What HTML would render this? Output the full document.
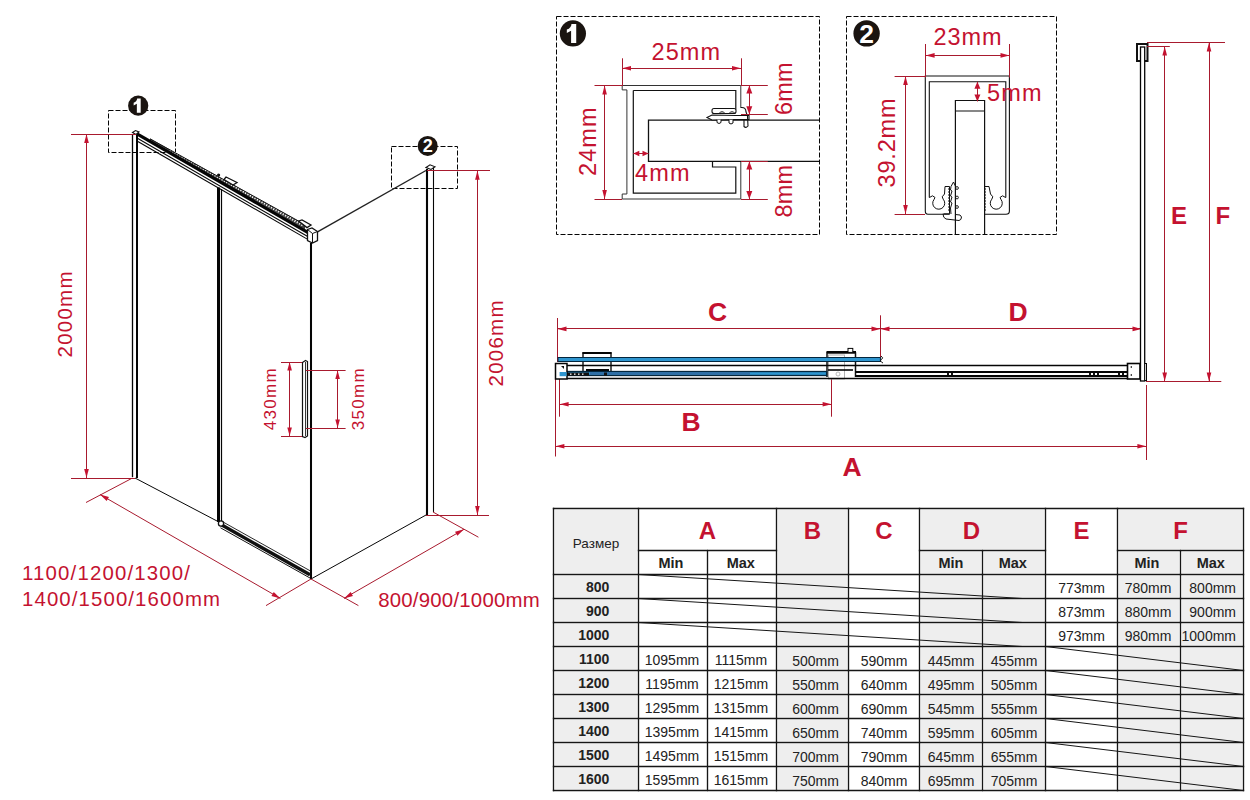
<!DOCTYPE html>
<html><head><meta charset="utf-8"><style>
html,body{margin:0;padding:0;background:#fff;width:1250px;height:800px;overflow:hidden}
svg{display:block;font-family:"Liberation Sans", sans-serif}
</style></head><body>
<svg width="1250" height="800" viewBox="0 0 1250 800">
<rect width="1250" height="800" fill="#fff"/>
<rect x="555.0" y="510.0" width="82.0" height="63.0" fill="#eeeeee"/>
<rect x="778.0" y="510.0" width="69.0" height="63.0" fill="#eeeeee"/>
<rect x="921.0" y="510.0" width="123.0" height="39.0" fill="#eeeeee"/>
<rect x="1119.0" y="510.0" width="123.0" height="39.0" fill="#eeeeee"/>
<rect x="921.0" y="552.0" width="60.0" height="21.0" fill="#eeeeee"/>
<rect x="984.0" y="552.0" width="60.0" height="21.0" fill="#eeeeee"/>
<rect x="1119.0" y="552.0" width="60.0" height="21.0" fill="#eeeeee"/>
<rect x="1182.0" y="552.0" width="60.0" height="21.0" fill="#eeeeee"/>
<rect x="555.0" y="576.0" width="82.0" height="21.0" fill="#eeeeee"/>
<rect x="778.0" y="576.0" width="69.0" height="21.0" fill="#eeeeee"/>
<rect x="921.0" y="576.0" width="60.0" height="21.0" fill="#eeeeee"/>
<rect x="984.0" y="576.0" width="60.0" height="21.0" fill="#eeeeee"/>
<rect x="1119.0" y="576.0" width="60.0" height="21.0" fill="#eeeeee"/>
<rect x="1182.0" y="576.0" width="60.0" height="21.0" fill="#eeeeee"/>
<rect x="555.0" y="600.0" width="82.0" height="21.0" fill="#eeeeee"/>
<rect x="778.0" y="600.0" width="69.0" height="21.0" fill="#eeeeee"/>
<rect x="921.0" y="600.0" width="60.0" height="21.0" fill="#eeeeee"/>
<rect x="984.0" y="600.0" width="60.0" height="21.0" fill="#eeeeee"/>
<rect x="1119.0" y="600.0" width="60.0" height="21.0" fill="#eeeeee"/>
<rect x="1182.0" y="600.0" width="60.0" height="21.0" fill="#eeeeee"/>
<rect x="555.0" y="624.0" width="82.0" height="21.0" fill="#eeeeee"/>
<rect x="778.0" y="624.0" width="69.0" height="21.0" fill="#eeeeee"/>
<rect x="921.0" y="624.0" width="60.0" height="21.0" fill="#eeeeee"/>
<rect x="984.0" y="624.0" width="60.0" height="21.0" fill="#eeeeee"/>
<rect x="1119.0" y="624.0" width="60.0" height="21.0" fill="#eeeeee"/>
<rect x="1182.0" y="624.0" width="60.0" height="21.0" fill="#eeeeee"/>
<rect x="555.0" y="648.0" width="82.0" height="21.0" fill="#eeeeee"/>
<rect x="778.0" y="648.0" width="69.0" height="21.0" fill="#eeeeee"/>
<rect x="921.0" y="648.0" width="60.0" height="21.0" fill="#eeeeee"/>
<rect x="984.0" y="648.0" width="60.0" height="21.0" fill="#eeeeee"/>
<rect x="1119.0" y="648.0" width="60.0" height="21.0" fill="#eeeeee"/>
<rect x="1182.0" y="648.0" width="60.0" height="21.0" fill="#eeeeee"/>
<rect x="555.0" y="672.0" width="82.0" height="21.0" fill="#eeeeee"/>
<rect x="778.0" y="672.0" width="69.0" height="21.0" fill="#eeeeee"/>
<rect x="921.0" y="672.0" width="60.0" height="21.0" fill="#eeeeee"/>
<rect x="984.0" y="672.0" width="60.0" height="21.0" fill="#eeeeee"/>
<rect x="1119.0" y="672.0" width="60.0" height="21.0" fill="#eeeeee"/>
<rect x="1182.0" y="672.0" width="60.0" height="21.0" fill="#eeeeee"/>
<rect x="555.0" y="696.0" width="82.0" height="21.0" fill="#eeeeee"/>
<rect x="778.0" y="696.0" width="69.0" height="21.0" fill="#eeeeee"/>
<rect x="921.0" y="696.0" width="60.0" height="21.0" fill="#eeeeee"/>
<rect x="984.0" y="696.0" width="60.0" height="21.0" fill="#eeeeee"/>
<rect x="1119.0" y="696.0" width="60.0" height="21.0" fill="#eeeeee"/>
<rect x="1182.0" y="696.0" width="60.0" height="21.0" fill="#eeeeee"/>
<rect x="555.0" y="720.0" width="82.0" height="21.0" fill="#eeeeee"/>
<rect x="778.0" y="720.0" width="69.0" height="21.0" fill="#eeeeee"/>
<rect x="921.0" y="720.0" width="60.0" height="21.0" fill="#eeeeee"/>
<rect x="984.0" y="720.0" width="60.0" height="21.0" fill="#eeeeee"/>
<rect x="1119.0" y="720.0" width="60.0" height="21.0" fill="#eeeeee"/>
<rect x="1182.0" y="720.0" width="60.0" height="21.0" fill="#eeeeee"/>
<rect x="555.0" y="744.0" width="82.0" height="21.0" fill="#eeeeee"/>
<rect x="778.0" y="744.0" width="69.0" height="21.0" fill="#eeeeee"/>
<rect x="921.0" y="744.0" width="60.0" height="21.0" fill="#eeeeee"/>
<rect x="984.0" y="744.0" width="60.0" height="21.0" fill="#eeeeee"/>
<rect x="1119.0" y="744.0" width="60.0" height="21.0" fill="#eeeeee"/>
<rect x="1182.0" y="744.0" width="60.0" height="21.0" fill="#eeeeee"/>
<rect x="555.0" y="768.0" width="82.0" height="21.0" fill="#eeeeee"/>
<rect x="778.0" y="768.0" width="69.0" height="21.0" fill="#eeeeee"/>
<rect x="921.0" y="768.0" width="60.0" height="21.0" fill="#eeeeee"/>
<rect x="984.0" y="768.0" width="60.0" height="21.0" fill="#eeeeee"/>
<rect x="1119.0" y="768.0" width="60.0" height="21.0" fill="#eeeeee"/>
<rect x="1182.0" y="768.0" width="60.0" height="21.0" fill="#eeeeee"/>
<line x1="553.5" y1="508.5" x2="1243.5" y2="508.5" stroke="#161616" stroke-width="1.35" stroke-linecap="square"/>
<line x1="553.5" y1="790.5" x2="1243.5" y2="790.5" stroke="#161616" stroke-width="1.35" stroke-linecap="square"/>
<line x1="553.5" y1="508.5" x2="553.5" y2="790.5" stroke="#161616" stroke-width="1.35" stroke-linecap="square"/>
<line x1="1243.5" y1="508.5" x2="1243.5" y2="790.5" stroke="#161616" stroke-width="1.35" stroke-linecap="square"/>
<line x1="638.5" y1="508.5" x2="638.5" y2="790.5" stroke="#161616" stroke-width="1.35" stroke-linecap="square"/>
<line x1="776.5" y1="508.5" x2="776.5" y2="790.5" stroke="#161616" stroke-width="1.35" stroke-linecap="square"/>
<line x1="848.5" y1="508.5" x2="848.5" y2="790.5" stroke="#161616" stroke-width="1.35" stroke-linecap="square"/>
<line x1="919.5" y1="508.5" x2="919.5" y2="790.5" stroke="#161616" stroke-width="1.35" stroke-linecap="square"/>
<line x1="1045.5" y1="508.5" x2="1045.5" y2="790.5" stroke="#161616" stroke-width="1.35" stroke-linecap="square"/>
<line x1="1117.5" y1="508.5" x2="1117.5" y2="790.5" stroke="#161616" stroke-width="1.35" stroke-linecap="square"/>
<line x1="707.5" y1="550.5" x2="707.5" y2="790.5" stroke="#161616" stroke-width="1.35" stroke-linecap="square"/>
<line x1="982.5" y1="550.5" x2="982.5" y2="790.5" stroke="#161616" stroke-width="1.35" stroke-linecap="square"/>
<line x1="1180.5" y1="550.5" x2="1180.5" y2="790.5" stroke="#161616" stroke-width="1.35" stroke-linecap="square"/>
<line x1="638.5" y1="550.5" x2="776.5" y2="550.5" stroke="#161616" stroke-width="1.35" stroke-linecap="square"/>
<line x1="919.5" y1="550.5" x2="1045.5" y2="550.5" stroke="#161616" stroke-width="1.35" stroke-linecap="square"/>
<line x1="1117.5" y1="550.5" x2="1243.5" y2="550.5" stroke="#161616" stroke-width="1.35" stroke-linecap="square"/>
<line x1="553.5" y1="574.5" x2="1243.5" y2="574.5" stroke="#161616" stroke-width="1.35" stroke-linecap="square"/>
<line x1="553.5" y1="598.5" x2="1243.5" y2="598.5" stroke="#161616" stroke-width="1.35" stroke-linecap="square"/>
<line x1="553.5" y1="622.5" x2="1243.5" y2="622.5" stroke="#161616" stroke-width="1.35" stroke-linecap="square"/>
<line x1="553.5" y1="646.5" x2="1243.5" y2="646.5" stroke="#161616" stroke-width="1.35" stroke-linecap="square"/>
<line x1="553.5" y1="670.5" x2="1243.5" y2="670.5" stroke="#161616" stroke-width="1.35" stroke-linecap="square"/>
<line x1="553.5" y1="694.5" x2="1243.5" y2="694.5" stroke="#161616" stroke-width="1.35" stroke-linecap="square"/>
<line x1="553.5" y1="718.5" x2="1243.5" y2="718.5" stroke="#161616" stroke-width="1.35" stroke-linecap="square"/>
<line x1="553.5" y1="742.5" x2="1243.5" y2="742.5" stroke="#161616" stroke-width="1.35" stroke-linecap="square"/>
<line x1="553.5" y1="766.5" x2="1243.5" y2="766.5" stroke="#161616" stroke-width="1.35" stroke-linecap="square"/>
<text x="596.0" y="548" font-size="13.5" fill="#222" text-anchor="middle" font-weight="normal">Размер</text>
<text x="707.5" y="538.6" font-size="24" fill="#c41230" text-anchor="middle" font-weight="bold">A</text>
<text x="812.5" y="538.6" font-size="24" fill="#c41230" text-anchor="middle" font-weight="bold">B</text>
<text x="884.0" y="538.6" font-size="24" fill="#c41230" text-anchor="middle" font-weight="bold">C</text>
<text x="971.5" y="538.6" font-size="24" fill="#c41230" text-anchor="middle" font-weight="bold">D</text>
<text x="1081.5" y="538.6" font-size="24" fill="#c41230" text-anchor="middle" font-weight="bold">E</text>
<text x="1180.5" y="538.6" font-size="24" fill="#c41230" text-anchor="middle" font-weight="bold">F</text>
<text x="671.0" y="568" font-size="14.5" fill="#222" text-anchor="middle" font-weight="bold">Min</text>
<text x="740.8" y="568" font-size="14.5" fill="#222" text-anchor="middle" font-weight="bold">Max</text>
<text x="951.0" y="568" font-size="14.5" fill="#222" text-anchor="middle" font-weight="bold">Min</text>
<text x="1012.8" y="568" font-size="14.5" fill="#222" text-anchor="middle" font-weight="bold">Max</text>
<text x="1147.0" y="568" font-size="14.5" fill="#222" text-anchor="middle" font-weight="bold">Min</text>
<text x="1210.8" y="568" font-size="14.5" fill="#222" text-anchor="middle" font-weight="bold">Max</text>
<text x="609.3" y="592.0" font-size="14" fill="#222" text-anchor="end" font-weight="bold">800</text>
<text x="1081.5" y="593.0" font-size="14" fill="#222" text-anchor="middle" font-weight="normal">773mm</text>
<text x="1148.0" y="593.0" font-size="14" fill="#222" text-anchor="middle" font-weight="normal">780mm</text>
<text x="1236" y="593.0" font-size="14" fill="#222" text-anchor="end" font-weight="normal">800mm</text>
<line x1="638.5" y1="574.5" x2="1022.5" y2="598.5" stroke="#161616" stroke-width="1"/>
<text x="609.3" y="616.0" font-size="14" fill="#222" text-anchor="end" font-weight="bold">900</text>
<text x="1081.5" y="617.0" font-size="14" fill="#222" text-anchor="middle" font-weight="normal">873mm</text>
<text x="1148.0" y="617.0" font-size="14" fill="#222" text-anchor="middle" font-weight="normal">880mm</text>
<text x="1236" y="617.0" font-size="14" fill="#222" text-anchor="end" font-weight="normal">900mm</text>
<line x1="638.5" y1="598.5" x2="1022.5" y2="622.5" stroke="#161616" stroke-width="1"/>
<text x="609.3" y="640.0" font-size="14" fill="#222" text-anchor="end" font-weight="bold">1000</text>
<text x="1081.5" y="641.0" font-size="14" fill="#222" text-anchor="middle" font-weight="normal">973mm</text>
<text x="1148.0" y="641.0" font-size="14" fill="#222" text-anchor="middle" font-weight="normal">980mm</text>
<text x="1236" y="641.0" font-size="14" fill="#222" text-anchor="end" font-weight="normal">1000mm</text>
<line x1="638.5" y1="622.5" x2="1022.5" y2="646.5" stroke="#161616" stroke-width="1"/>
<text x="609.3" y="664.0" font-size="14" fill="#222" text-anchor="end" font-weight="bold">1100</text>
<text x="672.0" y="665.0" font-size="14" fill="#222" text-anchor="middle" font-weight="normal">1095mm</text>
<text x="741.0" y="665.0" font-size="14" fill="#222" text-anchor="middle" font-weight="normal">1115mm</text>
<text x="815.5" y="666.1" font-size="14" fill="#222" text-anchor="middle" font-weight="normal">500mm</text>
<text x="884.0" y="666.1" font-size="14" fill="#222" text-anchor="middle" font-weight="normal">590mm</text>
<text x="951.0" y="665.8" font-size="14" fill="#222" text-anchor="middle" font-weight="normal">445mm</text>
<text x="1014.0" y="665.8" font-size="14" fill="#222" text-anchor="middle" font-weight="normal">455mm</text>
<line x1="1045.5" y1="646.5" x2="1243.5" y2="670.5" stroke="#161616" stroke-width="1"/>
<text x="609.3" y="688.0" font-size="14" fill="#222" text-anchor="end" font-weight="bold">1200</text>
<text x="672.0" y="689.0" font-size="14" fill="#222" text-anchor="middle" font-weight="normal">1195mm</text>
<text x="741.0" y="689.0" font-size="14" fill="#222" text-anchor="middle" font-weight="normal">1215mm</text>
<text x="815.5" y="690.1" font-size="14" fill="#222" text-anchor="middle" font-weight="normal">550mm</text>
<text x="884.0" y="690.1" font-size="14" fill="#222" text-anchor="middle" font-weight="normal">640mm</text>
<text x="951.0" y="689.8" font-size="14" fill="#222" text-anchor="middle" font-weight="normal">495mm</text>
<text x="1014.0" y="689.8" font-size="14" fill="#222" text-anchor="middle" font-weight="normal">505mm</text>
<line x1="1045.5" y1="670.5" x2="1243.5" y2="694.5" stroke="#161616" stroke-width="1"/>
<text x="609.3" y="712.0" font-size="14" fill="#222" text-anchor="end" font-weight="bold">1300</text>
<text x="672.0" y="713.0" font-size="14" fill="#222" text-anchor="middle" font-weight="normal">1295mm</text>
<text x="741.0" y="713.0" font-size="14" fill="#222" text-anchor="middle" font-weight="normal">1315mm</text>
<text x="815.5" y="714.1" font-size="14" fill="#222" text-anchor="middle" font-weight="normal">600mm</text>
<text x="884.0" y="714.1" font-size="14" fill="#222" text-anchor="middle" font-weight="normal">690mm</text>
<text x="951.0" y="713.8" font-size="14" fill="#222" text-anchor="middle" font-weight="normal">545mm</text>
<text x="1014.0" y="713.8" font-size="14" fill="#222" text-anchor="middle" font-weight="normal">555mm</text>
<line x1="1045.5" y1="694.5" x2="1243.5" y2="718.5" stroke="#161616" stroke-width="1"/>
<text x="609.3" y="736.0" font-size="14" fill="#222" text-anchor="end" font-weight="bold">1400</text>
<text x="672.0" y="737.0" font-size="14" fill="#222" text-anchor="middle" font-weight="normal">1395mm</text>
<text x="741.0" y="737.0" font-size="14" fill="#222" text-anchor="middle" font-weight="normal">1415mm</text>
<text x="815.5" y="738.1" font-size="14" fill="#222" text-anchor="middle" font-weight="normal">650mm</text>
<text x="884.0" y="738.1" font-size="14" fill="#222" text-anchor="middle" font-weight="normal">740mm</text>
<text x="951.0" y="737.8" font-size="14" fill="#222" text-anchor="middle" font-weight="normal">595mm</text>
<text x="1014.0" y="737.8" font-size="14" fill="#222" text-anchor="middle" font-weight="normal">605mm</text>
<line x1="1045.5" y1="718.5" x2="1243.5" y2="742.5" stroke="#161616" stroke-width="1"/>
<text x="609.3" y="760.0" font-size="14" fill="#222" text-anchor="end" font-weight="bold">1500</text>
<text x="672.0" y="761.0" font-size="14" fill="#222" text-anchor="middle" font-weight="normal">1495mm</text>
<text x="741.0" y="761.0" font-size="14" fill="#222" text-anchor="middle" font-weight="normal">1515mm</text>
<text x="815.5" y="762.1" font-size="14" fill="#222" text-anchor="middle" font-weight="normal">700mm</text>
<text x="884.0" y="762.1" font-size="14" fill="#222" text-anchor="middle" font-weight="normal">790mm</text>
<text x="951.0" y="761.8" font-size="14" fill="#222" text-anchor="middle" font-weight="normal">645mm</text>
<text x="1014.0" y="761.8" font-size="14" fill="#222" text-anchor="middle" font-weight="normal">655mm</text>
<line x1="1045.5" y1="742.5" x2="1243.5" y2="766.5" stroke="#161616" stroke-width="1"/>
<text x="609.3" y="784.0" font-size="14" fill="#222" text-anchor="end" font-weight="bold">1600</text>
<text x="672.0" y="785.0" font-size="14" fill="#222" text-anchor="middle" font-weight="normal">1595mm</text>
<text x="741.0" y="785.0" font-size="14" fill="#222" text-anchor="middle" font-weight="normal">1615mm</text>
<text x="815.5" y="786.1" font-size="14" fill="#222" text-anchor="middle" font-weight="normal">750mm</text>
<text x="884.0" y="786.1" font-size="14" fill="#222" text-anchor="middle" font-weight="normal">840mm</text>
<text x="951.0" y="785.8" font-size="14" fill="#222" text-anchor="middle" font-weight="normal">695mm</text>
<text x="1014.0" y="785.8" font-size="14" fill="#222" text-anchor="middle" font-weight="normal">705mm</text>
<line x1="1045.5" y1="766.5" x2="1243.5" y2="790.5" stroke="#161616" stroke-width="1"/>
<rect x="108.5" y="110.5" width="67" height="42" stroke="#050505" stroke-width="1" fill="none" stroke-dasharray="5 2"/>
<circle cx="138.2" cy="105.7" r="10.1" fill="#1a1410"/>
<path d="M140.69,98.60 L140.69,112.80 L136.85,112.80 L136.85,103.71 L133.66,105.42 L133.66,102.86 Q137.06,101.44 137.13,98.60 Z" fill="#fff"/>
<rect x="391.5" y="146.5" width="66" height="42" stroke="#050505" stroke-width="1" fill="none" stroke-dasharray="5 2"/>
<circle cx="427.7" cy="145.9" r="10" fill="#1a1410"/>
<text x="427.7" y="152.40" font-size="18.1" fill="#fff" text-anchor="middle" font-weight="bold">2</text>
<line x1="132.5" y1="134" x2="132.5" y2="477" stroke="#050505" stroke-width="1.3" />
<line x1="137" y1="135" x2="137" y2="478" stroke="#050505" stroke-width="2" />
<path d="M132.5,132.5 L135.5,130.5 L139,132 L136,134.5 Z" fill="#fff" stroke="#111" stroke-width="1.1"/>
<path d="M150,139.80 L305,229.24 L305,224.64 L150,138.60 Z" fill="#444"/>
<line x1="170" y1="150.14" x2="303" y2="225.48" stroke="#fff" stroke-width="2.2" stroke-dasharray="1.1 1.6"/>
<line x1="150" y1="138.80" x2="305" y2="224.64" stroke="#111" stroke-width="1"/>
<line x1="137" y1="133.90" x2="309" y2="233.14" stroke="#050505" stroke-width="3.4"/>
<line x1="137" y1="138.10" x2="309" y2="237.34" stroke="#050505" stroke-width="1.1"/>
<line x1="137" y1="140.90" x2="309" y2="240.14" stroke="#050505" stroke-width="1.1"/>
<path d="M224,179.5 L226,177 L237,182.5 L233,185 Z" fill="#fff" stroke="#111" stroke-width="1.3"/>
<circle cx="218.6" cy="175" r="1.6" fill="#111"/>
<path d="M298.5,221 L302,220 L311,225 L307,227.6 Z" fill="#fff" stroke="#111" stroke-width="1.3"/>
<path d="M307.5,229.5 L312,228 L317.5,231.5 L317.5,240.6 L312.5,243 L307.5,240.6 Z" fill="#fff" stroke="#111" stroke-width="1.3"/>
<path d="M307.5,229.5 L312.5,233.5 L317.5,231.5 M312.5,233.5 L312.5,243" fill="none" stroke="#111" stroke-width="1"/>
<line x1="218.5" y1="187.5" x2="218.5" y2="522" stroke="#050505" stroke-width="3" />
<line x1="221.5" y1="189" x2="221.5" y2="524" stroke="#050505" stroke-width="1.2" />
<line x1="311" y1="243" x2="311" y2="579" stroke="#050505" stroke-width="2.05" />
<line x1="135" y1="478" x2="217" y2="521" stroke="#050505" stroke-width="1" />
<line x1="221" y1="524.6" x2="310" y2="574.8" stroke="#111" stroke-width="3.4"/>
<line x1="220.5" y1="527.8" x2="310" y2="578" stroke="#111" stroke-width="1"/>
<line x1="222" y1="521.4" x2="310.5" y2="571" stroke="#111" stroke-width="0.9"/>
<circle cx="221" cy="523.5" r="2.6" fill="#fff" stroke="#111" stroke-width="1.3"/>
<line x1="317.5" y1="231.8" x2="426" y2="170.5" stroke="#222" stroke-width="1.4" />
<line x1="427" y1="169" x2="427" y2="515" stroke="#050505" stroke-width="2.1" />
<line x1="433.5" y1="167" x2="433.5" y2="512" stroke="#050505" stroke-width="1.1" />
<path d="M426,167.5 L430,164.8 L435,166.8 L431,169.5 Z" fill="#fff" stroke="#111" stroke-width="1.1"/>
<line x1="311" y1="579" x2="426" y2="515" stroke="#050505" stroke-width="1" />
<path d="M302.5,362.5 L305.5,360.5 L307.5,361.5 L307.5,436 L305,437.5 L302.5,436.5 Z" fill="#fff" stroke="#111" stroke-width="1.2"/>
<line x1="305.5" y1="362" x2="305.5" y2="436" stroke="#050505" stroke-width="0.8" />
<line x1="71" y1="134.5" x2="136" y2="134.5" stroke="#a81a2e" stroke-width="1" />
<line x1="71" y1="478.5" x2="135" y2="478.5" stroke="#a81a2e" stroke-width="1" />
<line x1="86.5" y1="134" x2="86.5" y2="478" stroke="#a81a2e" stroke-width="1" />
<path d="M86.50,134.00 L88.80,143.00 L84.20,143.00 Z" fill="#c41230"/>
<path d="M86.50,478.00 L84.20,469.00 L88.80,469.00 Z" fill="#c41230"/>
<text x="72" y="357.5" font-size="20.5" fill="#c41230" text-anchor="start" font-weight="normal" transform="rotate(-90 72 357.5)" textLength="86" lengthAdjust="spacing" >2000mm</text>
<line x1="427" y1="170.5" x2="490" y2="170.5" stroke="#a81a2e" stroke-width="1" />
<line x1="426" y1="515.5" x2="489" y2="515.5" stroke="#a81a2e" stroke-width="1" />
<line x1="477.5" y1="170.7" x2="477.5" y2="515" stroke="#a81a2e" stroke-width="1" />
<path d="M477.40,170.70 L479.70,179.70 L475.10,179.70 Z" fill="#c41230"/>
<path d="M477.40,515.00 L475.10,506.00 L479.70,506.00 Z" fill="#c41230"/>
<text x="503" y="386.5" font-size="20.5" fill="#c41230" text-anchor="start" font-weight="normal" transform="rotate(-90 503 386.5)" textLength="86" lengthAdjust="spacing" >2006mm</text>
<line x1="281" y1="362.5" x2="302" y2="362.5" stroke="#a81a2e" stroke-width="1" />
<line x1="281" y1="436.5" x2="302" y2="436.5" stroke="#a81a2e" stroke-width="1" />
<line x1="289.5" y1="362" x2="289.5" y2="436" stroke="#a81a2e" stroke-width="1" />
<path d="M289.60,362.00 L291.90,370.50 L287.30,370.50 Z" fill="#c41230"/>
<path d="M289.60,436.00 L287.30,427.50 L291.90,427.50 Z" fill="#c41230"/>
<text x="276.5" y="430.3" font-size="17" fill="#c41230" text-anchor="start" font-weight="normal" transform="rotate(-90 276.5 430.3)" textLength="62" lengthAdjust="spacing" >430mm</text>
<line x1="306" y1="370.5" x2="345.6" y2="370.5" stroke="#a81a2e" stroke-width="1" />
<line x1="306" y1="428.5" x2="345.6" y2="428.5" stroke="#a81a2e" stroke-width="1" />
<line x1="337.5" y1="370.4" x2="337.5" y2="428" stroke="#a81a2e" stroke-width="1" />
<path d="M337.60,370.40 L339.90,378.90 L335.30,378.90 Z" fill="#c41230"/>
<path d="M337.60,428.00 L335.30,419.50 L339.90,419.50 Z" fill="#c41230"/>
<text x="363.7" y="430.3" font-size="17" fill="#c41230" text-anchor="start" font-weight="normal" transform="rotate(-90 363.7 430.3)" textLength="62" lengthAdjust="spacing" >350mm</text>
<line x1="86" y1="502.5" x2="132.5" y2="478" stroke="#a81a2e" stroke-width="1" />
<line x1="311" y1="579" x2="266" y2="605.6" stroke="#a81a2e" stroke-width="1" />
<line x1="100" y1="494.5" x2="280.4" y2="598.4" stroke="#a81a2e" stroke-width="1" />
<path d="M100.00,494.50 L108.95,497.00 L106.65,500.98 Z" fill="#c41230"/>
<path d="M280.40,598.40 L271.45,595.90 L273.75,591.92 Z" fill="#c41230"/>
<text x="22" y="579.7" font-size="20.4" fill="#c41230" text-anchor="start" font-weight="normal" textLength="168" lengthAdjust="spacing" >1100/1200/1300/</text>
<text x="22" y="605.7" font-size="20.4" fill="#c41230" text-anchor="start" font-weight="normal" textLength="198" lengthAdjust="spacing" >1400/1500/1600mm</text>
<line x1="311" y1="579" x2="358.4" y2="605.6" stroke="#a81a2e" stroke-width="1" />
<line x1="433" y1="512" x2="478.4" y2="537.2" stroke="#a81a2e" stroke-width="1" />
<line x1="344" y1="598.4" x2="464" y2="529.3" stroke="#a81a2e" stroke-width="1" />
<path d="M344.00,598.40 L350.65,591.92 L352.95,595.90 Z" fill="#c41230"/>
<path d="M464.00,529.30 L457.35,535.78 L455.05,531.80 Z" fill="#c41230"/>
<text x="378.2" y="607" font-size="20.4" fill="#c41230" text-anchor="start" font-weight="normal" textLength="161.5" lengthAdjust="spacing" >800/900/1000mm</text>
<rect x="556.5" y="16.5" width="263" height="218" stroke="#050505" stroke-width="1" fill="none" stroke-dasharray="5 2"/>
<circle cx="572.9" cy="33.4" r="13.1" fill="#1a1410"/>
<path d="M576.23,23.90 L576.23,42.90 L571.09,42.90 L571.09,30.74 L566.82,33.02 L566.82,29.60 Q571.38,27.70 571.47,23.90 Z" fill="#fff"/>
<path d="M819,120.2 L648.5,120.2 L648.5,161.4 L819,161.4" fill="none" stroke="#111" stroke-width="1.3"/>
<path d="M622.2,85.5 L740.8,85.5 L740.8,108 M622.2,85.5 L622.2,89.9 L626.9,89.9 L626.9,194 L622.2,194 L622.2,199 L740.8,199 L740.8,162" fill="none" stroke="#333" stroke-width="1"/>
<path d="M633.3,90.5 L735.8,90.5 L735.8,109.6 M633.3,90.5 L633.3,193.2 L735.8,193.2 L735.8,167 L712.5,167 L712.5,162" fill="none" stroke="#111" stroke-width="1.2"/>
<rect x="712" y="108.5" width="24" height="5" rx="2" fill="#fff" stroke="#111" stroke-width="1.1"/>
<path d="M707,117.5 L712,115 L736,115.5 L749,115.5 L749,119.5 L736,119.5 L712,120 Z" fill="#fff" stroke="#111" stroke-width="1.1"/>
<path d="M719,113.5 Q722,110 725,113.5 M729,113.5 Q732,110 735,113.5" fill="none" stroke="#111" stroke-width="1"/>
<path d="M717,119.8 L717,122.5 Q719,124.5 721,122.5 L721,119.8 M729,119.8 L729,123 Q731,125 733,123 L733,119.8" fill="#fff" stroke="#111" stroke-width="1"/>
<path d="M741,107.5 Q746,107 746,112 L747.5,116 L748,126 Q746,128.5 744,126.5 L744,120" fill="none" stroke="#111" stroke-width="1.1"/>
<line x1="622.5" y1="58.3" x2="622.5" y2="86" stroke="#a81a2e" stroke-width="1" />
<line x1="741.5" y1="58.3" x2="741.5" y2="86" stroke="#a81a2e" stroke-width="1" />
<line x1="622" y1="68.5" x2="741" y2="68.5" stroke="#a81a2e" stroke-width="1" />
<path d="M622.00,68.30 L631.00,66.00 L631.00,70.60 Z" fill="#c41230"/>
<path d="M741.00,68.30 L732.00,70.60 L732.00,66.00 Z" fill="#c41230"/>
<text x="651.5" y="59.8" font-size="23.5" fill="#c41230" text-anchor="start" font-weight="normal" textLength="68.5" lengthAdjust="spacing" >25mm</text>
<line x1="594.5" y1="85.5" x2="622" y2="85.5" stroke="#a81a2e" stroke-width="1" />
<line x1="594.5" y1="199.5" x2="622" y2="199.5" stroke="#a81a2e" stroke-width="1" />
<line x1="741" y1="85.5" x2="767.8" y2="85.5" stroke="#a81a2e" stroke-width="1" />
<line x1="741" y1="199.5" x2="767.8" y2="199.5" stroke="#a81a2e" stroke-width="1" />
<line x1="741" y1="114.5" x2="767.8" y2="114.5" stroke="#a81a2e" stroke-width="1" />
<line x1="741" y1="161.5" x2="767.8" y2="161.5" stroke="#a81a2e" stroke-width="1" />
<line x1="604.5" y1="85.5" x2="604.5" y2="199" stroke="#a81a2e" stroke-width="1" />
<path d="M604.60,85.50 L606.90,94.50 L602.30,94.50 Z" fill="#c41230"/>
<path d="M604.60,199.00 L602.30,190.00 L606.90,190.00 Z" fill="#c41230"/>
<text x="596" y="176" font-size="23.5" fill="#c41230" text-anchor="start" font-weight="normal" transform="rotate(-90 596 176)" textLength="68.5" lengthAdjust="spacing" >24mm</text>
<line x1="749.5" y1="85.5" x2="749.5" y2="114.2" stroke="#a81a2e" stroke-width="1" />
<path d="M749.30,85.50 L752.30,93.50 L746.30,93.50 Z" fill="#c41230"/>
<path d="M749.30,114.20 L746.30,106.20 L752.30,106.20 Z" fill="#c41230"/>
<text x="791.6" y="115" font-size="23.5" fill="#c41230" text-anchor="start" font-weight="normal" transform="rotate(-90 791.6 115)" textLength="52.5" lengthAdjust="spacing" >6mm</text>
<line x1="749.5" y1="161.4" x2="749.5" y2="199" stroke="#a81a2e" stroke-width="1" />
<path d="M749.30,161.40 L752.30,169.40 L746.30,169.40 Z" fill="#c41230"/>
<path d="M749.30,199.00 L746.30,191.00 L752.30,191.00 Z" fill="#c41230"/>
<text x="791.6" y="217.5" font-size="23.5" fill="#c41230" text-anchor="start" font-weight="normal" transform="rotate(-90 791.6 217.5)" textLength="52.5" lengthAdjust="spacing" >8mm</text>
<line x1="633.3" y1="153.5" x2="648.5" y2="153.5" stroke="#a81a2e" stroke-width="1" />
<path d="M633.30,153.50 L639.30,150.70 L639.30,156.30 Z" fill="#c41230"/>
<path d="M648.50,153.50 L642.50,156.30 L642.50,150.70 Z" fill="#c41230"/>
<text x="635" y="181" font-size="23.5" fill="#c41230" text-anchor="start" font-weight="normal" textLength="54.5" lengthAdjust="spacing" >4mm</text>
<rect x="846.5" y="16.5" width="210" height="218" stroke="#050505" stroke-width="1" fill="none" stroke-dasharray="5 2"/>
<circle cx="866.6" cy="33.4" r="13.2" fill="#1a1410"/>
<text x="866.6" y="42.90" font-size="26.4" fill="#fff" text-anchor="middle" font-weight="bold">2</text>
<path d="M949.7,214.3 L928,214.3 Q925.3,214.3 925.3,211 L925.3,76 L1009.4,76 L1009.4,211 Q1009.4,214.3 1006,214.3 L984.6,214.3" fill="none" stroke="#111" stroke-width="1.1"/>
<path d="M929.3,197.6 L929.3,81.8 L1005.8,81.8 L1005.8,197.6" fill="none" stroke="#111" stroke-width="1.1"/>
<path d="M929.3,197.6 L932.5,195.8 L935,197.5 L934,199.5 A6,6 0 1 0 943.2,199.2 L942.2,196.8 L944.5,194 L945,186.5 L949.5,186.5 L949.5,213.8 L943.5,213.8" fill="none" stroke="#111" stroke-width="1"/>
<path d="M949.5,189 L948,189 M949.5,192 L948,192 M949.5,195 L948,195 M949.5,198 L948,198 M949.5,201 L948,201 M949.5,204 L948,204 M949.5,207 L948,207 M949.5,210 L948,210" stroke="#111" stroke-width="1"/>
<path d="M1005.8,197.6 L1002.5,195.8 L1000,197.5 L1001,199.5 A6,6 0 1 1 991.8,199.2 L992.8,196.8 L990.5,194 L989,186.5 L984.6,186.5" fill="none" stroke="#111" stroke-width="1"/>
<path d="M984.6,189 L986,189 M984.6,192 L986,192 M984.6,195 L986,195 M984.6,198 L986,198 M984.6,201 L986,201 M984.6,204 L986,204 M984.6,207 L986,207 M984.6,210 L986,210" stroke="#111" stroke-width="1"/>
<path d="M955.4,186 L953.5,182 L951,186.5 L950.5,190 L952,191 L950.5,196 L952,197 L950.5,202 L952,203 L950.5,208 L951,214" fill="none" stroke="#111" stroke-width="1"/>
<circle cx="957" cy="188" r="1.4" fill="#fff" stroke="#111" stroke-width="0.9"/><circle cx="957" cy="197.5" r="1.4" fill="#fff" stroke="#111" stroke-width="0.9"/><circle cx="957" cy="207" r="1.4" fill="#fff" stroke="#111" stroke-width="0.9"/>
<path d="M943,213.8 Q943,218 946,219 L959,220.5 Q961.5,220 961.5,217 L960,215 L955.4,214.5" fill="none" stroke="#111" stroke-width="1"/>
<path d="M955.4,234 L955.4,100.5 L984.6,100.5 L984.6,234 M955.4,111 L984.6,111" fill="none" stroke="#111" stroke-width="1.2"/>
<line x1="925.5" y1="44" x2="925.5" y2="77.5" stroke="#a81a2e" stroke-width="1" />
<line x1="1009.5" y1="44" x2="1009.5" y2="77.5" stroke="#a81a2e" stroke-width="1" />
<line x1="925.6" y1="55.5" x2="1009.5" y2="55.5" stroke="#a81a2e" stroke-width="1" />
<path d="M925.60,55.40 L934.60,53.10 L934.60,57.70 Z" fill="#c41230"/>
<path d="M1009.50,55.40 L1000.50,57.70 L1000.50,53.10 Z" fill="#c41230"/>
<text x="933.5" y="44.8" font-size="23.5" fill="#c41230" text-anchor="start" font-weight="normal" textLength="68" lengthAdjust="spacing" >23mm</text>
<line x1="894.6" y1="76.5" x2="925" y2="76.5" stroke="#a81a2e" stroke-width="1" />
<line x1="894.6" y1="214.5" x2="925" y2="214.5" stroke="#a81a2e" stroke-width="1" />
<line x1="905.5" y1="76" x2="905.5" y2="214" stroke="#a81a2e" stroke-width="1" />
<path d="M905.50,76.00 L907.80,85.00 L903.20,85.00 Z" fill="#c41230"/>
<path d="M905.50,214.00 L903.20,205.00 L907.80,205.00 Z" fill="#c41230"/>
<text x="894.6" y="187.5" font-size="23.5" fill="#c41230" text-anchor="start" font-weight="normal" transform="rotate(-90 894.6 187.5)" textLength="89" lengthAdjust="spacing" >39.2mm</text>
<line x1="977.5" y1="81.8" x2="977.5" y2="101.4" stroke="#a81a2e" stroke-width="1" />
<path d="M977.40,81.80 L980.40,88.80 L974.40,88.80 Z" fill="#c41230"/>
<path d="M977.40,101.40 L974.40,94.40 L980.40,94.40 Z" fill="#c41230"/>
<text x="987" y="100.5" font-size="23.5" fill="#c41230" text-anchor="start" font-weight="normal" textLength="54.5" lengthAdjust="spacing" >5mm</text>
<line x1="557.5" y1="318" x2="557.5" y2="362" stroke="#a81a2e" stroke-width="1" />
<line x1="880.5" y1="315.3" x2="880.5" y2="362" stroke="#a81a2e" stroke-width="1" />
<line x1="1141.5" y1="318" x2="1141.5" y2="330" stroke="#a81a2e" stroke-width="1" />
<line x1="557.5" y1="328.5" x2="880.5" y2="328.5" stroke="#a81a2e" stroke-width="1" />
<path d="M557.50,328.90 L566.50,326.60 L566.50,331.20 Z" fill="#c41230"/>
<path d="M880.50,328.90 L871.50,331.20 L871.50,326.60 Z" fill="#c41230"/>
<line x1="880.5" y1="328.5" x2="1141.5" y2="328.5" stroke="#a81a2e" stroke-width="1" />
<path d="M880.50,328.90 L889.50,326.60 L889.50,331.20 Z" fill="#c41230"/>
<path d="M1141.50,328.90 L1132.50,331.20 L1132.50,326.60 Z" fill="#c41230"/>
<text x="717.5" y="320.6" font-size="26.5" fill="#c41230" text-anchor="middle" font-weight="bold" >C</text>
<text x="1018" y="320.6" font-size="26.5" fill="#c41230" text-anchor="middle" font-weight="bold" >D</text>
<line x1="559.5" y1="379" x2="559.5" y2="416.7" stroke="#a81a2e" stroke-width="1" />
<line x1="831.5" y1="379" x2="831.5" y2="416.7" stroke="#a81a2e" stroke-width="1" />
<line x1="559.6" y1="404.5" x2="831.6" y2="404.5" stroke="#a81a2e" stroke-width="1" />
<path d="M559.60,404.30 L568.60,402.00 L568.60,406.60 Z" fill="#c41230"/>
<path d="M831.60,404.30 L822.60,406.60 L822.60,402.00 Z" fill="#c41230"/>
<text x="691" y="430.5" font-size="26.5" fill="#c41230" text-anchor="middle" font-weight="bold" >B</text>
<line x1="555.5" y1="379" x2="555.5" y2="456.5" stroke="#a81a2e" stroke-width="1" />
<line x1="1146.5" y1="385" x2="1146.5" y2="460" stroke="#a81a2e" stroke-width="1" />
<line x1="555.4" y1="446.5" x2="1146.4" y2="446.5" stroke="#a81a2e" stroke-width="1" />
<path d="M555.40,446.20 L564.40,443.90 L564.40,448.50 Z" fill="#c41230"/>
<path d="M1146.40,446.20 L1137.40,448.50 L1137.40,443.90 Z" fill="#c41230"/>
<text x="852" y="476" font-size="26.5" fill="#c41230" text-anchor="middle" font-weight="bold" >A</text>
<path d="M583,371 L583,353 L611,353 L611,371" fill="none" stroke="#111" stroke-width="1.4"/>
<line x1="582.5" y1="353" x2="611.5" y2="353" stroke="#050505" stroke-width="2" />
<line x1="586" y1="370" x2="609" y2="370" stroke="#050505" stroke-width="2" />
<path d="M827,377 L827,353 L855.5,353 L855.5,377" fill="none" stroke="#111" stroke-width="1.5"/>
<line x1="826.5" y1="352" x2="856" y2="352" stroke="#050505" stroke-width="2" />
<rect x="848" y="348.4" width="4.8" height="4" stroke="#050505" stroke-width="1" fill="#fff" />
<rect x="828.5" y="355" width="16" height="24" stroke="#aaa" stroke-width="0.9" fill="none" />
<rect x="830" y="358" width="13" height="3.5" rx="1.5" fill="none" stroke="#999" stroke-width="0.8"/>
<line x1="828" y1="370" x2="853" y2="370" stroke="#050505" stroke-width="1.6" />
<circle cx="838" cy="374" r="2" fill="#fff" stroke="#aaa" stroke-width="0.8"/>
<line x1="567" y1="365.5" x2="1128" y2="365.5" stroke="#050505" stroke-width="1.3" />
<line x1="855" y1="372" x2="1128" y2="372" stroke="#050505" stroke-width="2" />
<line x1="855" y1="376" x2="1128" y2="376" stroke="#050505" stroke-width="2" />
<line x1="567" y1="378.5" x2="1128" y2="378.5" stroke="#050505" stroke-width="1.3" />
<rect x="947" y="373" width="2" height="2" fill="#111"/>
<rect x="951" y="373" width="2" height="2" fill="#111"/>
<rect x="1089" y="373" width="2" height="2" fill="#111"/>
<rect x="1093" y="373" width="2" height="2" fill="#111"/>
<rect x="1097" y="373" width="2" height="2" fill="#111"/>
<rect x="1118" y="373" width="2" height="2" fill="#111"/>
<rect x="1122" y="373" width="2" height="2" fill="#111"/>
<rect x="558" y="357.5" width="322.4" height="4" fill="#2e95cf" stroke="#03263d" stroke-width="1"/>
<rect x="559.6" y="371.5" width="267" height="4" fill="#2e95cf" stroke="#03263d" stroke-width="1.3"/>
<rect x="590" y="372" width="160" height="3" fill="#2f6fa6"/>
<rect x="567" y="372.5" width="22" height="3.2" fill="#111"/>
<rect x="570" y="373.4" width="1.5" height="1.6" fill="#ccc"/>
<rect x="574" y="373.4" width="1.5" height="1.6" fill="#ccc"/>
<rect x="578" y="373.4" width="1.5" height="1.6" fill="#ccc"/>
<rect x="582" y="373.4" width="1.5" height="1.6" fill="#ccc"/>
<rect x="604" y="372.5" width="3" height="3.2" fill="#111"/>
<path d="M881,356 Q884,358 881.5,359.5 Q879,361 883,363" fill="none" stroke="#111" stroke-width="1"/>
<rect x="555.5" y="363.5" width="11.5" height="15.5" stroke="#050505" stroke-width="1.5" fill="#fff" />
<rect x="559.6" y="372" width="7" height="4.2" fill="#2e95cf"/>
<path d="M561,366 L564,366 L564,369 Z" fill="#111"/>
<rect x="1127.5" y="363.5" width="12.5" height="15.5" stroke="#050505" stroke-width="1.6" fill="#fff" />
<path d="M1130,367 L1132,366 L1132,368 Z M1130,375 L1132,374 L1132,376 Z" fill="#111"/>
<rect x="1140.5" y="47" width="4.2" height="334" stroke="#050505" stroke-width="1.3" fill="#fff" />
<rect x="1144.7" y="363.5" width="1.8" height="17" stroke="#050505" stroke-width="1" fill="#fff" />
<path d="M1140,61 L1137,61 L1137,44 L1147.5,44 L1147.5,61 L1145,61" fill="none" stroke="#111" stroke-width="2"/>
<line x1="1146" y1="381.5" x2="1221.3" y2="381.5" stroke="#a81a2e" stroke-width="1" />
<line x1="1147" y1="42.5" x2="1225" y2="42.5" stroke="#a81a2e" stroke-width="1" />
<line x1="1147" y1="46.5" x2="1169.8" y2="46.5" stroke="#a81a2e" stroke-width="1" />
<line x1="1164.5" y1="46.4" x2="1164.5" y2="381.6" stroke="#a81a2e" stroke-width="1" />
<path d="M1164.70,46.40 L1167.00,55.40 L1162.40,55.40 Z" fill="#c41230"/>
<path d="M1164.70,381.60 L1162.40,372.60 L1167.00,372.60 Z" fill="#c41230"/>
<line x1="1209.5" y1="42.4" x2="1209.5" y2="381.6" stroke="#a81a2e" stroke-width="1" />
<path d="M1209.00,42.40 L1211.30,51.40 L1206.70,51.40 Z" fill="#c41230"/>
<path d="M1209.00,381.60 L1206.70,372.60 L1211.30,372.60 Z" fill="#c41230"/>
<text x="1179" y="224" font-size="24" fill="#c41230" text-anchor="middle" font-weight="bold" >E</text>
<text x="1222.8" y="224" font-size="24" fill="#c41230" text-anchor="middle" font-weight="bold" >F</text>
</svg>
</body></html>
